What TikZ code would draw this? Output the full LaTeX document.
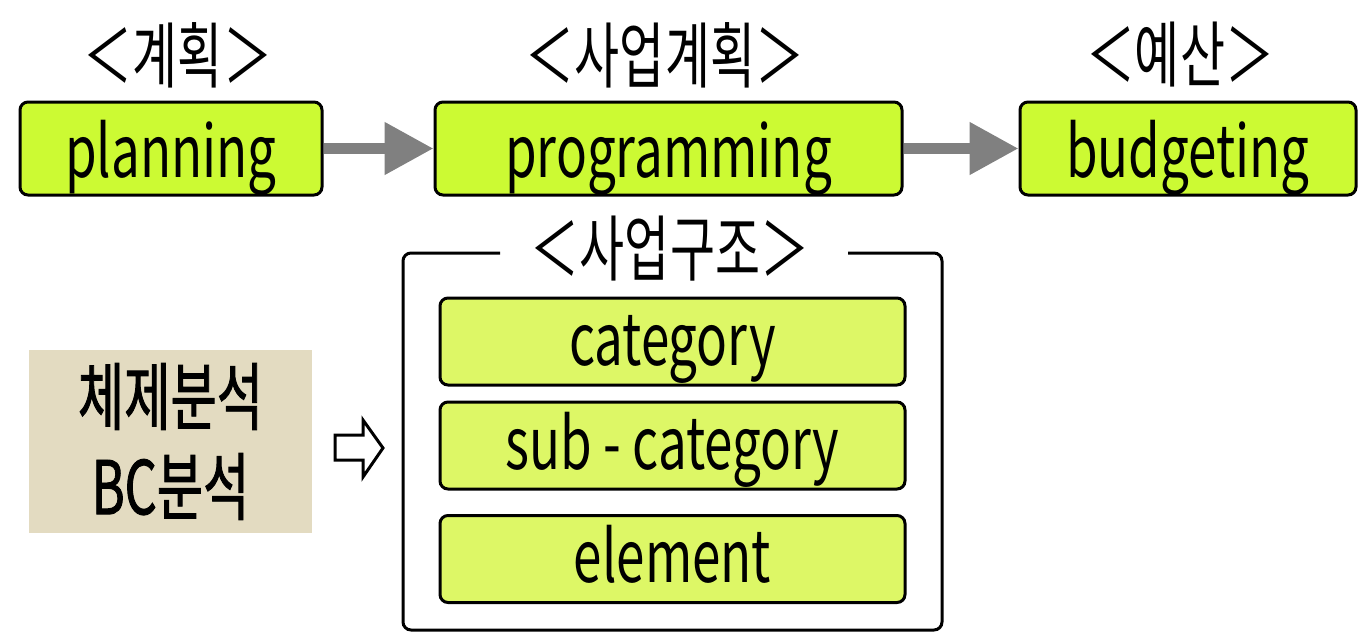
\documentclass[tikz,border=0pt]{standalone}
\usepackage{fontspec}
\setmainfont{Noto Sans CJK KR}[FakeStretch=0.71]
\newfontfamily\kr{Noto Sans CJK KR}[FakeStretch=0.68]
\newfontfamily\krb{Noto Sans CJK KR}[FakeStretch=0.68,FakeBold=1.2]
\usetikzlibrary{arrows.meta}
\definecolor{limeA}{RGB}{204,250,51}
\definecolor{limeB}{RGB}{221,247,102}
\definecolor{tan}{RGB}{227,219,193}
\definecolor{arrgray}{RGB}{128,128,128}
\tikzset{
  topbox/.style={draw=black, line width=1.5pt, rounded corners=4pt, fill=limeA,
    minimum height=46.5pt, inner sep=0pt, text height=28.5pt, text depth=0pt,
    font=\fontsize{36}{40}\selectfont},
  subbox/.style={draw=black, line width=1.5pt, rounded corners=4pt, fill=limeB,
    minimum width=232.5pt, minimum height=43.5pt, inner sep=0pt, text height=23.5pt, text depth=0pt,
    font=\fontsize{36}{40}\selectfont},
  toplabel/.style={inner sep=0pt, font=\kr\fontsize{36}{38}\selectfont},
  grayarrow/.style={draw=arrgray, line width=5.5pt, -{Triangle[length=24.5pt,width=25pt]}},
  framebox/.style={draw=black, line width=1.5pt, rounded corners=4pt},
}
\begin{document}
\begin{tikzpicture}[x=0.5pt,y=-0.5pt]
\useasboundingbox (0,0) rectangle (1359,632);
% top row
\node[topbox, minimum width=151pt] (plan) at (171,148.5) {planning};
\node[topbox, minimum width=233.5pt] (prog) at (668.5,148.5) {programming};
\node[topbox, minimum width=168pt] (budg) at (1188,148.5) {budgeting};
\node[toplabel] (l1) at (178,55) {＜계획＞};
\node[toplabel] (l2) at (665,55) {＜사업계획＞};
\node[toplabel] (l3) at (1180,55) {＜예산＞};
\draw[grayarrow] (plan.east) -- (prog.west);
\draw[grayarrow] (prog.east) -- (budg.west);
% frame
\coordinate (fa) at (500,253);
\coordinate (fb) at (848,253);
\draw[framebox] (fa) -- (403,253) -- (403,630) -- (942,630) -- (942,253) -- (fb);
\node[toplabel] (l4) at (670,249) {＜사업구조＞};
\node[subbox] (cat) at (672.5,341.5) {category};
\node[subbox] (sub) at (672.5,445.5) {sub - category};
\node[subbox] (ele) at (672.5,559) {element};
% left box
\node[fill=tan, minimum width=141.5pt, minimum height=91.5pt, inner sep=0pt,
  align=center, font=\krb\fontsize{37}{45}\selectfont] (ana) at (170.5,441.5) {체제분석\\BC분석};
% outline arrow
\draw[line width=1.5pt, fill=white, line join=miter]
  (335,435) -- (363,435) -- (363,420) -- (383,448) -- (363,477) -- (363,460) -- (335,460) -- cycle;
\end{tikzpicture}
\end{document}
